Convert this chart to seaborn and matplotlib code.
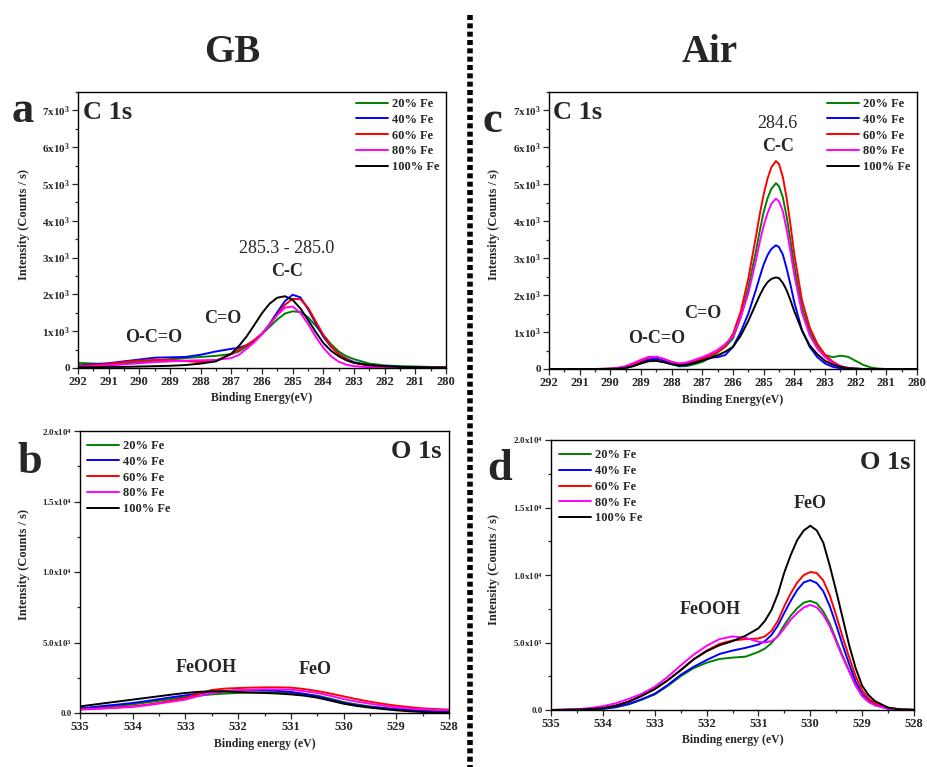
import matplotlib
matplotlib.use('Agg')
import matplotlib.pyplot as plt
from matplotlib.lines import Line2D
from matplotlib.ticker import MultipleLocator, FuncFormatter
import pandas as pd
import seaborn as sns

labels = ['20% Fe', '40% Fe', '60% Fe', '80% Fe', '100% Fe']
colors = ['#008000', '#0000ff', '#ff0000', '#ff00ff', '#000000']

# intensities below are in 10^3 counts/s

# (a) C 1s, GB
c_gb_energy = [292.0, 291.5, 291.0, 290.5, 290.0, 289.5, 289.0, 288.5, 288.0, 287.5, 287.0,
               286.75, 286.5, 286.25, 286.0, 285.75, 285.5, 285.25, 285.0, 284.75, 284.5,
               284.25, 284.0, 283.75, 283.5, 283.25, 283.0,
               282.5, 282.0, 281.5, 281.0, 280.5, 280.0]
c_gb_20 = [0.14, 0.12, 0.11, 0.13, 0.16, 0.20, 0.24, 0.27, 0.30, 0.33, 0.38,
           0.45, 0.58, 0.75, 0.92, 1.12, 1.32, 1.48, 1.54, 1.52, 1.38, 1.15, 0.90, 0.65, 0.45, 0.32, 0.24,
           0.12, 0.07, 0.05, 0.04, 0.03, 0.02]
c_gb_40 = [0.07, 0.10, 0.13, 0.18, 0.23, 0.28, 0.29, 0.30, 0.36, 0.45, 0.52,
           0.55, 0.62, 0.74, 0.92, 1.20, 1.52, 1.82, 1.99, 1.92, 1.60, 1.22, 0.85, 0.58, 0.38, 0.25, 0.16,
           0.07, 0.04, 0.03, 0.02, 0.01, 0.01]
c_gb_60 = [0.05, 0.08, 0.11, 0.16, 0.20, 0.22, 0.22, 0.19, 0.16, 0.20, 0.38,
           0.50, 0.62, 0.76, 0.94, 1.18, 1.46, 1.72, 1.88, 1.87, 1.64, 1.27, 0.90, 0.60, 0.38, 0.24, 0.14,
           0.06, 0.03, 0.02, 0.01, 0.01, 0.01]
c_gb_80 = [0.03, 0.05, 0.07, 0.10, 0.13, 0.16, 0.18, 0.20, 0.21, 0.22, 0.27,
           0.36, 0.52, 0.70, 0.92, 1.18, 1.44, 1.64, 1.67, 1.50, 1.20, 0.85, 0.55, 0.32, 0.17, 0.09, 0.05,
           0.02, 0.01, 0.01, 0.0, 0.0, 0.0]
c_gb_100 = [0.02, 0.02, 0.03, 0.03, 0.04, 0.05, 0.06, 0.08, 0.12, 0.18, 0.39,
            0.60, 0.86, 1.17, 1.49, 1.75, 1.91, 1.95, 1.85, 1.62, 1.31, 0.98, 0.68, 0.47, 0.32, 0.21, 0.14,
            0.08, 0.05, 0.03, 0.02, 0.01, 0.01]

# (c) C 1s, Air
c_air_energy = [292.0, 291.5, 291.0, 290.5,
                290.25, 290.0, 289.75, 289.5, 289.25, 289.0, 288.75, 288.5, 288.25, 288.0, 287.75, 287.5, 287.25, 287.0,
                286.75, 286.5, 286.25, 286.0, 285.75, 285.5, 285.25,
                285.125, 285.0, 284.875, 284.75, 284.6, 284.5, 284.375, 284.25, 284.125, 284.0,
                283.75, 283.5, 283.25, 283.0, 282.75, 282.5, 282.25, 282.0, 281.75, 281.5, 281.25, 281.0,
                280.5, 280.0]
c_air_20 = [0, 0, 0, 0,
            0.0, 0.01, 0.02, 0.05, 0.11, 0.19, 0.26, 0.27, 0.21, 0.13, 0.07, 0.08, 0.13, 0.19,
            0.30, 0.45, 0.60, 0.83, 1.40, 2.20, 3.20,
            3.75, 4.25, 4.62, 4.88, 5.03, 4.95, 4.65, 4.12, 3.47, 2.77,
            1.66, 1.01, 0.63, 0.38, 0.32, 0.36, 0.33, 0.22, 0.11, 0.04, 0.01, 0,
            0, 0]
c_air_40 = [0, 0, 0, 0,
            0.0, 0.0, 0.01, 0.03, 0.08, 0.16, 0.25, 0.28, 0.24, 0.15, 0.09, 0.10, 0.17, 0.26,
            0.31, 0.32, 0.38, 0.60, 1.00, 1.50, 2.15,
            2.50, 2.83, 3.08, 3.25, 3.35, 3.30, 3.10, 2.72, 2.28, 1.80,
            1.05, 0.60, 0.32, 0.15, 0.06, 0.02, 0.01, 0, 0, 0, 0, 0,
            0, 0]
c_air_60 = [0, 0, 0, 0,
            0.005, 0.01, 0.03, 0.06, 0.13, 0.22, 0.31, 0.33, 0.27, 0.19, 0.14, 0.15, 0.21, 0.28,
            0.36, 0.46, 0.62, 0.95, 1.55, 2.45, 3.60,
            4.20, 4.73, 5.15, 5.46, 5.63, 5.55, 5.20, 4.62, 3.90, 3.10,
            1.86, 1.13, 0.68, 0.39, 0.20, 0.08, 0.03, 0.01, 0, 0, 0, 0,
            0, 0]
c_air_80 = [0, 0, 0, 0,
            0.005, 0.01, 0.03, 0.08, 0.16, 0.25, 0.33, 0.33, 0.27, 0.19, 0.15, 0.18, 0.25, 0.32,
            0.41, 0.52, 0.68, 0.88, 1.40, 2.05, 2.95,
            3.45, 3.88, 4.22, 4.47, 4.61, 4.54, 4.27, 3.78, 3.18, 2.54,
            1.52, 0.92, 0.55, 0.32, 0.16, 0.07, 0.03, 0.01, 0, 0, 0, 0,
            0, 0]
c_air_100 = [0, 0, 0, 0,
             0.0, 0.0, 0.01, 0.03, 0.08, 0.15, 0.21, 0.22, 0.18, 0.13, 0.10, 0.12, 0.17, 0.23,
             0.29, 0.37, 0.47, 0.60, 0.90, 1.30, 1.77,
             2.00, 2.20, 2.35, 2.44, 2.48, 2.46, 2.33, 2.13, 1.86, 1.56,
             1.04, 0.64, 0.40, 0.22, 0.12, 0.06, 0.02, 0.01, 0, 0, 0, 0,
             0, 0]

# (b) O 1s, GB
o_gb_energy = [535.0, 534.75, 534.5, 534.25, 534.0, 533.75, 533.5, 533.25, 533.0, 532.75,
               532.5, 532.25, 532.0, 531.75, 531.5, 531.25, 531.0, 530.75, 530.5, 530.25,
               530.0, 529.75, 529.5, 529.25, 529.0, 528.75, 528.5, 528.25, 528.0]
o_gb_20 = [0.31, 0.38, 0.46, 0.53, 0.61, 0.74, 0.87, 1.00, 1.13, 1.23, 1.32, 1.38, 1.42, 1.45, 1.47,
           1.46, 1.42, 1.35, 1.23, 1.02, 0.78, 0.61, 0.47, 0.37, 0.28, 0.22, 0.17, 0.13, 0.09]
o_gb_40 = [0.33, 0.42, 0.52, 0.61, 0.71, 0.84, 0.98, 1.12, 1.25, 1.38, 1.49, 1.56, 1.61, 1.62, 1.61,
           1.57, 1.49, 1.36, 1.18, 0.95, 0.71, 0.55, 0.43, 0.34, 0.26, 0.21, 0.17, 0.14, 0.12]
o_gb_60 = [0.26, 0.30, 0.35, 0.41, 0.47, 0.58, 0.72, 0.88, 1.05, 1.38, 1.63, 1.73, 1.77, 1.80, 1.82,
           1.82, 1.80, 1.70, 1.56, 1.38, 1.18, 0.98, 0.80, 0.65, 0.52, 0.42, 0.33, 0.28, 0.24]
o_gb_80 = [0.24, 0.28, 0.33, 0.38, 0.43, 0.54, 0.67, 0.81, 0.95, 1.20, 1.42, 1.53, 1.61, 1.65, 1.68,
           1.67, 1.65, 1.55, 1.42, 1.22, 0.99, 0.81, 0.66, 0.52, 0.40, 0.32, 0.26, 0.22, 0.19]
o_gb_100 = [0.47, 0.59, 0.71, 0.83, 0.95, 1.07, 1.19, 1.31, 1.42, 1.50, 1.54, 1.53, 1.49, 1.45, 1.42,
            1.38, 1.32, 1.23, 1.09, 0.88, 0.66, 0.50, 0.38, 0.28, 0.19, 0.12, 0.07, 0.04, 0.02]

# (d) O 1s, Air
o_air_energy = [535.0, 534.75, 534.5, 534.25, 534.0, 533.75, 533.5, 533.25, 533.0, 532.75,
                532.5, 532.25, 532.0, 531.75, 531.5, 531.25,
                531.0, 530.875, 530.75, 530.625, 530.5, 530.375, 530.25, 530.125, 530.0, 529.875,
                529.75, 529.625, 529.5, 529.375, 529.25, 529.125, 529.0, 528.875, 528.75,
                528.5, 528.25, 528.0]
o_air_20 = [0.0, 0.01, 0.02, 0.04, 0.09, 0.20, 0.42, 0.76, 1.15, 1.78, 2.50, 3.10, 3.50, 3.78, 3.88, 3.95,
            4.30, 4.55, 4.95, 5.50, 6.30, 7.00, 7.55, 7.95, 8.08, 7.90,
            7.30, 6.40, 5.20, 4.00, 2.90, 1.85, 1.05, 0.60, 0.35,
            0.10, 0.03, 0.01]
o_air_40 = [0.0, 0.01, 0.02, 0.04, 0.09, 0.22, 0.45, 0.80, 1.20, 1.85, 2.60, 3.20, 3.70, 4.15, 4.40, 4.60,
            4.85, 5.10, 5.55, 6.25, 7.20, 8.10, 8.90, 9.45, 9.62, 9.40,
            8.80, 7.70, 6.30, 4.80, 3.40, 2.10, 1.20, 0.70, 0.40,
            0.10, 0.03, 0.01]
o_air_60 = [0.0, 0.01, 0.03, 0.07, 0.15, 0.33, 0.62, 1.05, 1.55, 2.20, 2.95, 3.75, 4.40, 4.90, 5.15, 5.25,
            5.30, 5.45, 5.85, 6.60, 7.70, 8.65, 9.45, 10.00, 10.22, 10.15,
            9.60, 8.50, 7.00, 5.40, 3.90, 2.50, 1.45, 0.85, 0.50,
            0.14, 0.04, 0.01]
o_air_80 = [0.01, 0.03, 0.06, 0.14, 0.28, 0.50, 0.82, 1.20, 1.72, 2.45, 3.30, 4.10, 4.75, 5.25, 5.45, 5.35,
            5.05, 5.00, 5.10, 5.45, 6.05, 6.70, 7.20, 7.60, 7.78, 7.60,
            7.05, 6.20, 5.05, 3.90, 2.85, 1.80, 1.05, 0.60, 0.35,
            0.10, 0.03, 0.01]
o_air_100 = [0.0, 0.01, 0.03, 0.07, 0.14, 0.32, 0.62, 1.05, 1.55, 2.20, 2.95, 3.75, 4.35, 4.80, 5.10, 5.50,
             6.05, 6.60, 7.40, 8.60, 10.20, 11.50, 12.60, 13.30, 13.65, 13.30,
             12.40, 10.70, 8.80, 6.80, 4.80, 3.10, 1.80, 1.10, 0.65,
             0.18, 0.04, 0.01]


def frame(energy, series):
    rows = []
    for lab, vals in zip(labels, series):
        assert len(vals) == len(energy), lab
        for e, v in zip(energy, vals):
            rows.append({'E': e, 'I': v * 1000, 'sample': lab})
    return pd.DataFrame(rows)


sns.set_style('ticks')
plt.rcParams['font.family'] = ['Liberation Serif', 'DejaVu Serif']
plt.rcParams['font.weight'] = 'bold'
plt.rcParams['axes.labelweight'] = 'bold'
plt.rcParams['mathtext.fontset'] = 'custom'
plt.rcParams['mathtext.rm'] = 'Liberation Serif:bold'
plt.rcParams['mathtext.it'] = 'Liberation Serif:bold'
plt.rcParams['mathtext.bf'] = 'Liberation Serif:bold'

W, H = 927, 767
fig = plt.figure(figsize=(W / 100, H / 100), dpi=100)


def box(l, t, r, b):
    return [l / W, 1 - b / H, (r - l) / W, (b - t) / H]


ax_a = fig.add_axes(box(78, 92, 446, 368))
ax_c = fig.add_axes(box(549, 92, 917, 369))
ax_b = fig.add_axes(box(80, 431, 449, 713))
ax_d = fig.add_axes(box(551, 440, 914, 710))

palette = dict(zip(labels, colors))


def fmt_c(v, p):
    if abs(v) < 1:
        return '0'
    return '%dx10$^3$' % round(v / 1000)


def fmt_o(v, p):
    if abs(v) < 1:
        return '0.0'
    if v < 1e4:
        return '%.1fx10$^3$' % (v / 1e3)
    return '%.1fx10$^4$' % (v / 1e4)


panels = [
    (ax_a, c_gb_energy, [c_gb_20, c_gb_40, c_gb_60, c_gb_80, c_gb_100], 'C'),
    (ax_c, c_air_energy, [c_air_20, c_air_40, c_air_60, c_air_80, c_air_100], 'C'),
    (ax_b, o_gb_energy, [o_gb_20, o_gb_40, o_gb_60, o_gb_80, o_gb_100], 'O'),
    (ax_d, o_air_energy, [o_air_20, o_air_40, o_air_60, o_air_80, o_air_100], 'O'),
]

for ax, energy, series, kind in panels:
    df = frame(energy, series)
    sns.lineplot(data=df, x='E', y='I', hue='sample', hue_order=labels, palette=palette,
                 estimator=None, lw=1.4, ax=ax)
    for line in ax.get_lines():
        line.set_solid_joinstyle('round')
    for s in ax.spines.values():
        s.set_visible(True)
        s.set_linewidth(1.0)
        s.set_color('black')
    ax.tick_params(which='both', direction='out', top=False, right=False, width=0.9)
    ax.tick_params(which='major', length=4)
    ax.tick_params(which='minor', length=2.5)
    ax.tick_params(axis='x', labelsize=9, pad=2)
    if kind == 'C':
        ax.set_xlim(292, 280)
        ax.set_ylim(0, 7500)
        ax.xaxis.set_major_locator(MultipleLocator(1))
        ax.xaxis.set_minor_locator(MultipleLocator(0.5))
        ax.yaxis.set_major_locator(MultipleLocator(1000))
        ax.yaxis.set_minor_locator(MultipleLocator(500))
        ax.yaxis.set_major_formatter(FuncFormatter(fmt_c))
        ax.tick_params(axis='y', labelsize=8, pad=2)
        ax.set_xlabel('Binding Energy(eV)', fontsize=8.5, labelpad=3)
    else:
        ax.set_xlim(535, 528)
        ax.set_ylim(0, 20000)
        ax.xaxis.set_major_locator(MultipleLocator(1))
        ax.xaxis.set_minor_locator(MultipleLocator(0.5))
        ax.yaxis.set_major_locator(MultipleLocator(5000))
        ax.yaxis.set_minor_locator(MultipleLocator(2500))
        ax.yaxis.set_major_formatter(FuncFormatter(fmt_o))
        ax.tick_params(axis='y', labelsize=6.5, pad=2)
        ax.set_xlabel('Binding energy (eV)', fontsize=8.5, labelpad=3)
    ax.set_ylabel('Intensity (Counts / s)', fontsize=9)

ax_a.yaxis.set_label_coords(-0.13, 0.52)
ax_c.yaxis.set_label_coords(-0.133, 0.52)
ax_b.yaxis.set_label_coords(-0.135, 0.525)
ax_d.yaxis.set_label_coords(-0.14, 0.52)

leg_kw = dict(frameon=False, fontsize=9, handlelength=2.6, handletextpad=0.3,
              labelspacing=0.3, borderpad=0, borderaxespad=0, loc='upper left')
for ax, anchor in [(ax_a, (0.755, 0.978)), (ax_c, (0.755, 0.978)),
                   (ax_b, (0.018, 0.968)), (ax_d, (0.022, 0.965))]:
    h, l = ax.get_legend_handles_labels()
    leg = ax.legend(h, l, bbox_to_anchor=anchor, **leg_kw)
    for line in leg.get_lines():
        line.set_linewidth(1.4)

big = dict(fontsize=19, fontweight='bold', va='baseline')
ax_a.text(0.014, 0.902, 'C 1s', transform=ax_a.transAxes, ha='left', **big)
ax_c.text(0.012, 0.902, 'C 1s', transform=ax_c.transAxes, ha='left', **big)
ax_b.text(0.981, 0.904, 'O 1s', transform=ax_b.transAxes, ha='right', **big)
ax_d.text(0.989, 0.893, 'O 1s', transform=ax_d.transAxes, ha='right', **big)

ann = dict(fontsize=13, fontweight='bold', ha='center', va='baseline')
ax_a.text(285.19, 3120, '285.3 - 285.0', fontsize=13, fontweight='normal', ha='center', va='baseline')
ax_a.text(285.19, 2490, 'C-C', **ann)
ax_a.text(287.27, 1220, 'C=O', **ann)
ax_a.text(289.52, 700, 'O-C=O', **ann)
ax_c.text(284.54, 6520, '284.6', fontsize=13, fontweight='normal', ha='center', va='baseline')
ax_c.text(284.54, 5900, 'C-C', **ann)
ax_c.text(286.98, 1380, 'C=O', **ann)
ax_c.text(288.48, 700, 'O-C=O', **ann)
ax_b.text(532.61, 2900, 'FeOOH', **ann)
ax_b.text(530.54, 2770, 'FeO', **ann)
ax_d.text(531.93, 7110, 'FeOOH', **ann)
ax_d.text(530.0, 15000, 'FeO', **ann)

letter = dict(fontsize=32, fontweight='bold', va='baseline', ha='left')
fig.text(12 / W, 1 - 122 / H, 'a', **letter)
fig.text(17 / W, 1 - 473 / H, 'b', **letter)
fig.text(482 / W, 1 - 132 / H, 'c', **letter)
fig.text(487 / W, 1 - 480 / H, 'd', **letter)

fig.text(232 / W, 1 - 62 / H, 'GB', fontsize=28, fontweight='bold', ha='center', va='baseline')
fig.text(710 / W, 1 - 62 / H, 'Air', fontsize=28, fontweight='bold', ha='center', va='baseline')

fig.add_artist(Line2D([470 / W, 470 / W], [1 - 15 / H, 0], transform=fig.transFigure,
                      color='black', lw=4, linestyle=(0, (0.9, 0.6))))

fig.savefig('out.png', dpi=100)
